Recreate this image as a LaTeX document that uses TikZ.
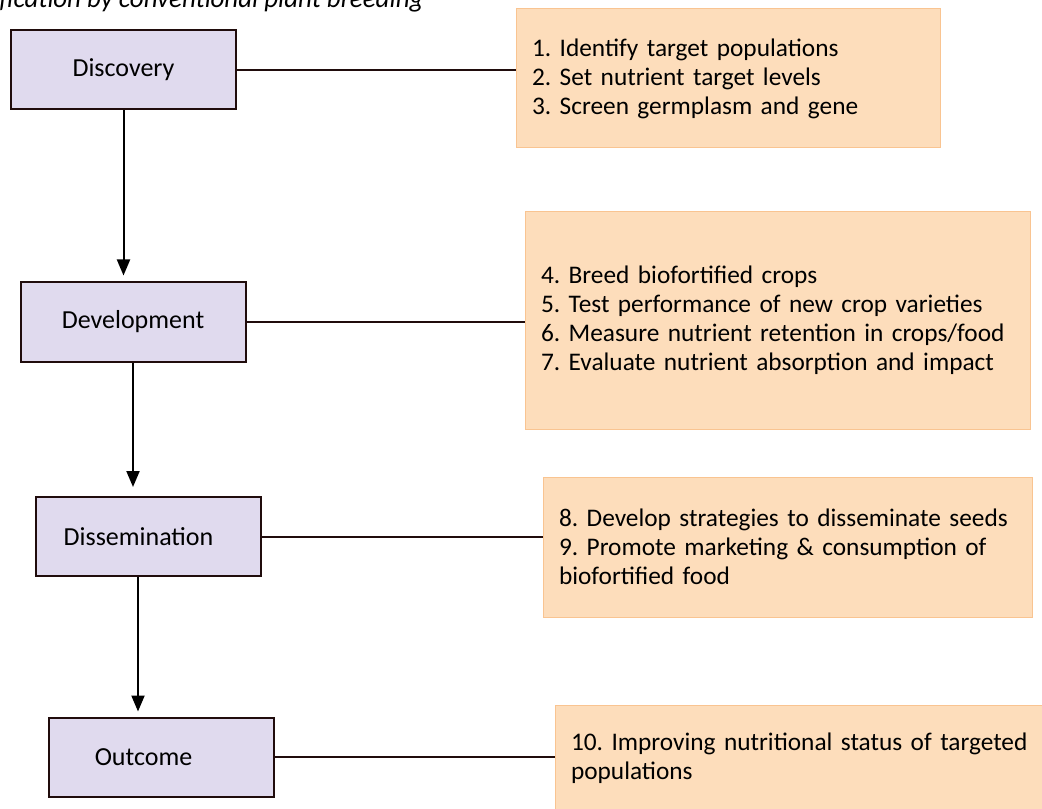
\documentclass[tikz,border=0pt]{standalone}
\usepackage{fontspec}
\setmainfont{Carlito}
\usetikzlibrary{arrows.meta,positioning}

\definecolor{stagefill}{RGB}{224,218,238}
\definecolor{stageline}{RGB}{32,12,12}
\definecolor{notefill}{RGB}{253,221,187}
\definecolor{noteline}{RGB}{249,196,145}

\begin{document}
\frenchspacing
\begin{tikzpicture}[x=0.75pt,y=-0.75pt,
    stage/.style={draw=stageline, line width=1.5pt, fill=stagefill,
      minimum width=168.75pt, minimum height=59.25pt, inner sep=0pt,
      font=\fontsize{19.5}{22}\selectfont},
    note/.style={draw=noteline, line width=0.75pt, fill=notefill,
      align=left, inner xsep=12pt, font=\fontsize{19}{21.75}\selectfont},
    link/.style={draw=stageline, line width=1.5pt},
    flow/.style={-{Triangle[width=9.75pt,length=12pt]}, line width=1.5pt, black}]
    % Page frame of the figure (pixel units, y downward)
    \useasboundingbox (0,0) rectangle (1042,809);

    % Title, cut at the top left edge
    \node[anchor=base west, inner sep=0pt, font=\itshape\fontsize{20.2}{22}\selectfont]
      (title) at (-1,8) {fication by conventional plant breeding};

    % The four stages on the left.
    \node[stage] (disc) at (123.5,70) {Discovery};
    \node[stage] (dev) at (133,322) {Development};
    \node[stage] (diss) at (148.5,536.5) {Dissemination\hspace*{15pt}};
    \node[stage] (outc) at (161.5,757) {Outcome\hspace*{27pt}};

    % The steps of each stage, on the right.
    \node[note, text width=294pt, minimum height=104.25pt] (steps1) at (728,78.5)
      {1. Identify target populations\\
       2. Set nutrient target levels\\
       3. Screen germplasm and gene};
    \node[note, text width=354.75pt, minimum height=162.75pt] (steps2) at (777.5,320.5)
      {4. Breed biofortified crops\\
       5. Test performance of new crop varieties\\
       6. Measure nutrient retention in crops/food\\
       7. Evaluate nutrient absorption and impact};
    \node[note, text width=342.75pt, minimum height=105pt] (steps3) at (787.5,547)
      {8. Develop strategies to disseminate seeds\\
       9. Promote marketing \& consumption of\\
       biofortified food};
    \node[note, text width=360pt, minimum height=79.5pt] (steps4) at (811,758)
      {10. Improving nutritional status of targeted\\
       populations};

    % Lines from each stage to its steps.
    \draw[link] (disc.east) -- (steps1.west |- disc.east);
    \draw[link] (dev.east) -- (steps2.west |- dev.east);
    \draw[link] (diss.east) -- (steps3.west |- diss.east);
    \draw[link] (outc.east) -- (steps4.west |- outc.east);

    % Arrows down the stages.
    \draw[flow, shorten >=4.5pt] (disc.south) -- (dev.north -| disc.south);
    \draw[flow, shorten >=6.75pt] (dev.south) -- (diss.north -| dev.south);
    \coordinate (dissout) at ([xshift=-7.875pt]diss.south);
    \draw[flow, shorten >=3.75pt] (dissout) -- (outc.north -| dissout);
\end{tikzpicture}
\end{document}
